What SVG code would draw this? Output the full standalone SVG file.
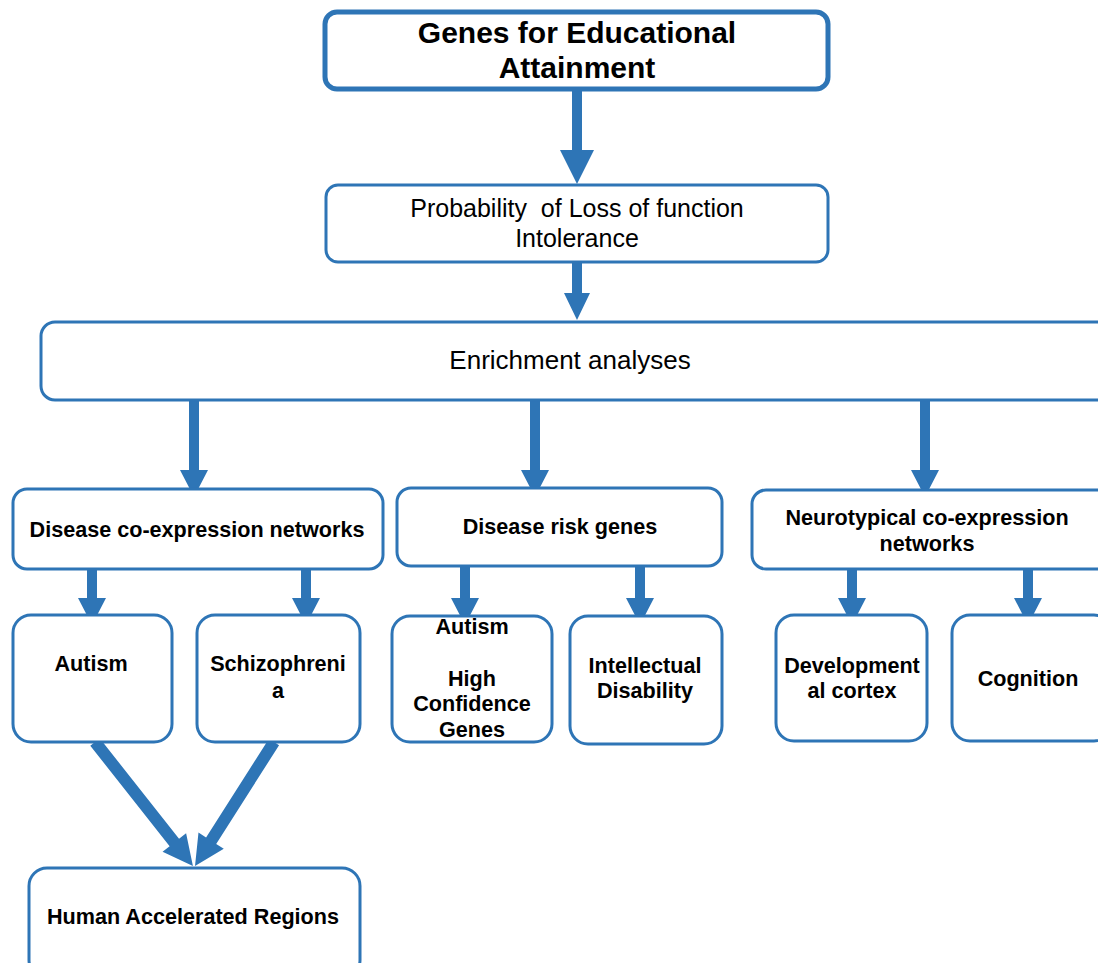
<svg xmlns="http://www.w3.org/2000/svg" width="1098" height="963" viewBox="0 0 1098 963">
<style>
.box{fill:#fff;stroke:#2E75B6;stroke-width:3}
.arr{fill:#2E75B6;stroke:none}
.t{font-family:"Liberation Sans",Arial,sans-serif;fill:#000;text-anchor:middle}
.b{font-weight:bold;font-size:21.6px}
.r{font-size:25px}
</style>
<rect width="1098" height="963" fill="#fff"/>
<g id="connectors">
<polygon class="arr" points="572,89 582,89 582,150 594,150 577,184 560,150 572,150"/>
<polygon class="arr" points="572,262 582,262 582,293 590,293 577,320 564,293 572,293"/>
<polygon class="arr" points="189,400 199,400 199,470 208,470 194,497 180,470 189,470"/>
<polygon class="arr" points="530,400 540,400 540,470 549,470 535,497 521,470 530,470"/>
<polygon class="arr" points="920,400 930,400 930,470 939,470 925,497 911,470 920,470"/>
<polygon class="arr" points="87,569 97,569 97,598 106,598 92,625 78,598 87,598"/>
<polygon class="arr" points="301,569 311,569 311,598 320,598 306,625 292,598 301,598"/>
<polygon class="arr" points="460,566 470,566 470,598 479,598 465,625 451,598 460,598"/>
<polygon class="arr" points="635,566 645,566 645,598 654,598 640,625 626,598 635,598"/>
<polygon class="arr" points="847,569 857,569 857,598 866,598 852,625 838,598 847,598"/>
<polygon class="arr" points="1023,569 1033,569 1033,598 1042,598 1028,625 1014,598 1023,598"/>
<polygon class="arr" transform="translate(95,742) rotate(51.7)" points="0,-6 128,-6 128,-15 158,0 128,15 128,6 0,6"/>
<polygon class="arr" transform="translate(274,742) rotate(122.5)" points="0,-6 117,-6 117,-15 147,0 117,15 117,6 0,6"/>
</g>
<g id="n-genes">
<rect x="325" y="12" width="503" height="77" rx="12" fill="#fff" stroke="#2E75B6" stroke-width="5"/>
<text class="t" x="577" y="43" font-weight="bold" font-size="30">Genes for Educational</text>
<text class="t" x="577" y="78" font-weight="bold" font-size="30">Attainment</text>
</g>
<g id="n-prob">
<rect class="box" x="326" y="185" width="502" height="77" rx="12"/>
<text class="t r" x="577" y="217" xml:space="preserve">Probability  of Loss of function</text>
<text class="t r" x="577" y="247">Intolerance</text>
</g>
<g id="n-enrich">
<rect class="box" x="41" y="322" width="1070" height="78" rx="14"/>
<text class="t" x="570" y="369" font-size="26">Enrichment analyses</text>
</g>
<g id="n-dcn">
<rect class="box" x="13" y="489" width="370" height="80" rx="14"/>
<text class="t b" x="197" y="537">Disease co-expression networks</text>
</g>
<g id="n-drg">
<rect class="box" x="397" y="488" width="325" height="78" rx="14"/>
<text class="t b" x="560" y="534">Disease risk genes</text>
</g>
<g id="n-ncn">
<rect class="box" x="752" y="490" width="360" height="79" rx="14"/>
<text class="t b" x="927" y="525">Neurotypical co-expression</text>
<text class="t b" x="927" y="551">networks</text>
</g>
<g id="n-autism">
<rect class="box" x="13" y="615" width="159" height="127" rx="18"/>
<text class="t b" x="91" y="671">Autism</text>
</g>
<g id="n-schiz">
<rect class="box" x="197" y="615" width="163" height="127" rx="18"/>
<text class="t b" x="278" y="671">Schizophreni</text>
<text class="t b" x="278" y="698">a</text>
</g>
<g id="n-hcg">
<rect class="box" x="392" y="616" width="160" height="126" rx="18"/>
<text class="t b" x="472" y="634">Autism</text>
<text class="t b" x="472" y="686">High</text>
<text class="t b" x="472" y="711">Confidence</text>
<text class="t b" x="472" y="737">Genes</text>
</g>
<g id="n-id">
<rect class="box" x="570" y="616" width="152" height="128" rx="18"/>
<text class="t b" x="645" y="673">Intellectual</text>
<text class="t b" x="645" y="698">Disability</text>
</g>
<g id="n-dev">
<rect class="box" x="776" y="615" width="151" height="126" rx="18"/>
<text class="t b" x="852" y="673">Development</text>
<text class="t b" x="852" y="698">al cortex</text>
</g>
<g id="n-cog">
<rect class="box" x="952" y="615" width="160" height="126" rx="18"/>
<text class="t b" x="1028" y="686">Cognition</text>
</g>
<g id="n-har">
<rect class="box" x="29" y="868" width="331" height="110" rx="18"/>
<text class="t b" x="193" y="924">Human Accelerated Regions</text>
</g>
</svg>
